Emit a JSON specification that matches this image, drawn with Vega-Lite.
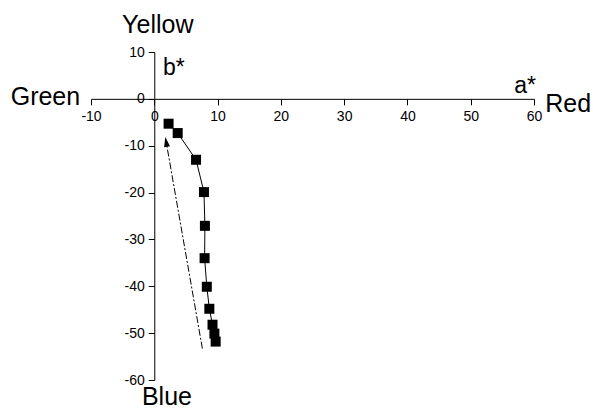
{
  "$schema": "https://vega.github.io/schema/vega-lite/v6.json",
  "width": 443,
  "height": 328,
  "autosize": {"type": "none"},
  "padding": {"left": 91, "top": 52, "right": 59, "bottom": 31},
  "background": "white",
  "config": {
    "view": {"stroke": null},
    "font": "Liberation Sans",
    "axis": {
      "grid": false,
      "domainColor": "black",
      "domainWidth": 1,
      "tickColor": "black",
      "tickWidth": 1,
      "labelColor": "black",
      "labelFont": "Liberation Sans",
      "labelFontSize": 14,
      "labelOverlap": false,
      "labelFlush": false,
      "title": null
    }
  },
  "datasets": {
    "points": [
      {"a": 2.26, "b": -5.3},
      {"a": 3.7, "b": -7.3},
      {"a": 6.6, "b": -13.0},
      {"a": 7.85, "b": -19.9},
      {"a": 8.0, "b": -27.1},
      {"a": 7.95, "b": -34.0},
      {"a": 8.3, "b": -40.1},
      {"a": 8.7, "b": -44.8},
      {"a": 9.2, "b": -48.2},
      {"a": 9.5, "b": -50.1},
      {"a": 9.7, "b": -51.8}
    ],
    "arrow": [
      {"a": 7.6, "b": -53.3},
      {"a": 1.8, "b": -8.6}
    ],
    "head": [
      {"a": 1.88, "b": -9.17}
    ],
    "names": [
      {"a": 0.55, "b": 14.1, "text": "Yellow"},
      {"a": -17.2, "b": -1.3, "text": "Green"},
      {"a": 65.4, "b": -2.7, "text": "Red"},
      {"a": 2.0, "b": -65.4, "text": "Blue"}
    ],
    "axisnames": [
      {"a": 3.1, "b": 5.1, "text": "b*"},
      {"a": 58.6, "b": 1.35, "text": "a*"}
    ]
  },
  "layer": [
    {
      "data": {"name": "points"},
      "mark": {"type": "line", "color": "black", "strokeWidth": 1},
      "encoding": {
        "x": {
          "field": "a",
          "type": "quantitative",
          "scale": {"domain": [-10, 60], "nice": false, "zero": false},
          "axis": {
            "orient": "bottom",
            "values": [-10, -5, 0, 5, 10, 15, 20, 25, 30, 35, 40, 45, 50, 55, 60],
            "labelExpr": "datum.value % 10 == 0 ? '' + datum.value : ''",
            "tickSize": {"condition": {"test": "datum.value % 10 != 0", "value": 3}, "value": 6},
            "labelPadding": 5,
            "offset": {"expr": "scale('y', 0) - height"}
          }
        },
        "y": {
          "field": "b",
          "type": "quantitative",
          "scale": {"domain": [-60, 10], "nice": false, "zero": false},
          "axis": {
            "orient": "left",
            "values": [-60, -55, -50, -45, -40, -35, -30, -25, -20, -15, -10, -5, 0, 5, 10],
            "labelExpr": "datum.value % 10 == 0 ? '' + datum.value : ''",
            "tickSize": {"condition": {"test": "datum.value % 10 != 0", "value": 3}, "value": 6},
            "labelPadding": 4,
            "offset": {"expr": "-scale('x', 0)"}
          }
        },
        "order": {"field": "b", "type": "quantitative", "sort": "descending"}
      }
    },
    {
      "data": {"name": "points"},
      "mark": {"type": "point", "shape": "square", "size": 100, "filled": true, "color": "black", "opacity": 1},
      "encoding": {
        "x": {"field": "a", "type": "quantitative"},
        "y": {"field": "b", "type": "quantitative"}
      }
    },
    {
      "data": {"name": "arrow"},
      "mark": {"type": "line", "color": "black", "strokeWidth": 1, "strokeDash": [7, 2, 2, 2]},
      "encoding": {
        "x": {"field": "a", "type": "quantitative"},
        "y": {"field": "b", "type": "quantitative"},
        "order": {"field": "b", "type": "quantitative"}
      }
    },
    {
      "data": {"name": "head"},
      "mark": {"type": "point", "shape": "M0,-1L0.6,1L-0.6,1Z", "size": 100, "angle": -10, "filled": true, "color": "black", "opacity": 1},
      "encoding": {
        "x": {"field": "a", "type": "quantitative"},
        "y": {"field": "b", "type": "quantitative"}
      }
    },
    {
      "data": {"name": "names"},
      "mark": {"type": "text", "font": "Liberation Sans", "fontSize": 25, "align": "center", "baseline": "alphabetic", "color": "black"},
      "encoding": {
        "x": {"field": "a", "type": "quantitative"},
        "y": {"field": "b", "type": "quantitative"},
        "text": {"field": "text"}
      }
    },
    {
      "data": {"name": "axisnames"},
      "mark": {"type": "text", "font": "Liberation Sans", "fontSize": 23, "align": "center", "baseline": "alphabetic", "color": "black"},
      "encoding": {
        "x": {"field": "a", "type": "quantitative"},
        "y": {"field": "b", "type": "quantitative"},
        "text": {"field": "text"}
      }
    }
  ]
}
